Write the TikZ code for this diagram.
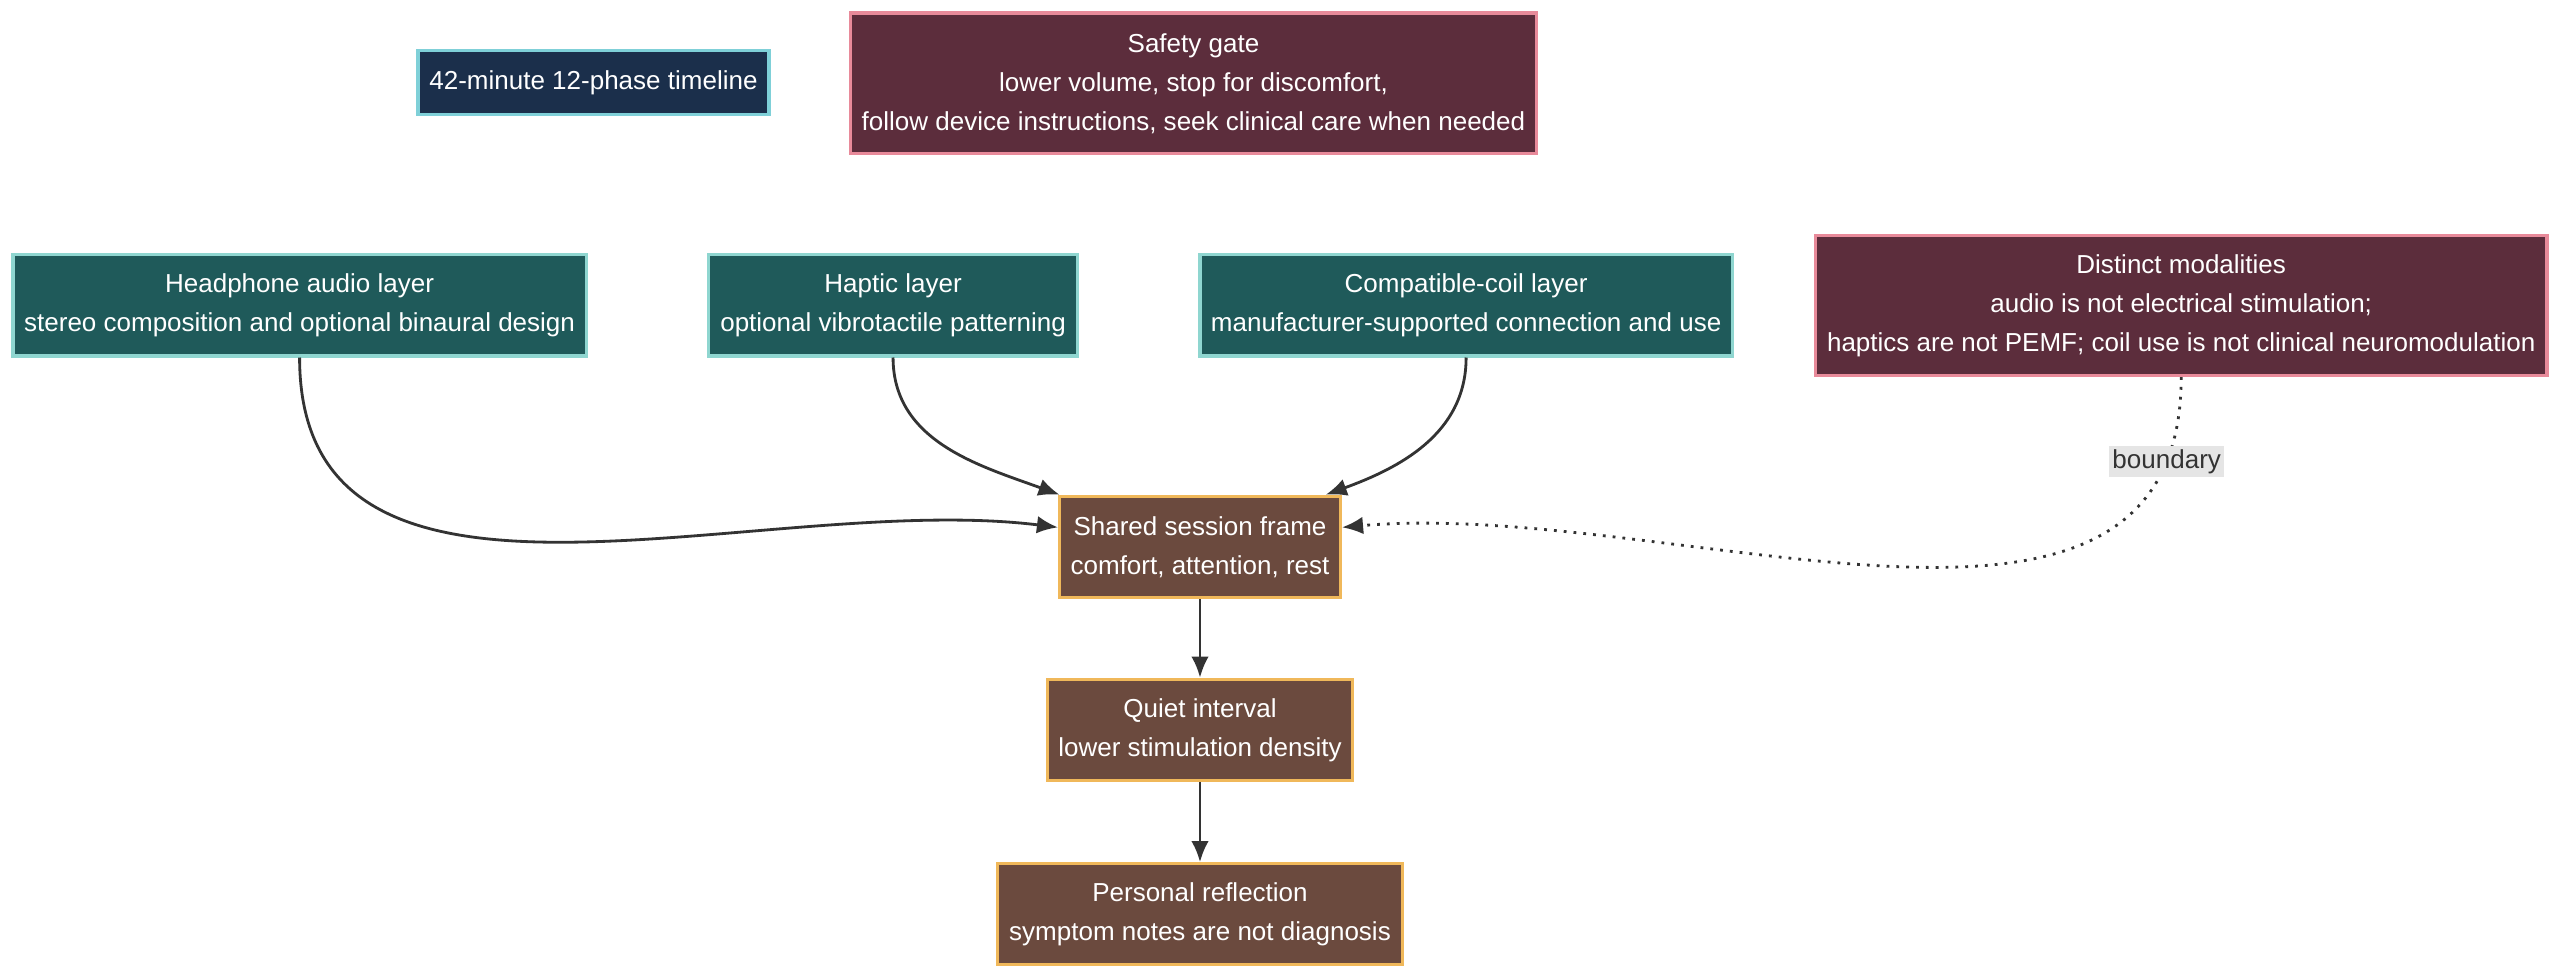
\documentclass[tikz,border=0pt]{standalone}
\usepackage{fontspec}
\setmainfont{Liberation Sans}
\usetikzlibrary{arrows.meta,calc,backgrounds}
\definecolor{navyfill}{HTML}{1B2F4B}
\definecolor{navyline}{HTML}{7FD0D8}
\definecolor{wine}{HTML}{5C2D3C}
\definecolor{wineline}{HTML}{E88A9A}
\definecolor{teal}{HTML}{1F5A5A}
\definecolor{tealline}{HTML}{8FD6D0}
\definecolor{brown}{HTML}{6B4A3E}
\definecolor{brownline}{HTML}{F0B85A}
\definecolor{edgecol}{HTML}{333333}
\begin{document}
\begin{tikzpicture}[
    x=0.01633cm, y=-0.01633cm,
    box/.style={draw, line width=0.9pt, text=white, align=center, inner sep=0pt,
                font=\fontsize{7.4}{11.1}\selectfont},
    timebox/.style={box, fill=navyfill, draw=navyline, minimum height=39*0.01633cm},
    gatebox/.style={box, fill=wine, draw=wineline, minimum height=86*0.01633cm},
    layerbox/.style={box, fill=teal, draw=tealline, minimum height=62*0.01633cm},
    framebox/.style={box, fill=brown, draw=brownline, minimum height=62*0.01633cm},
    link/.style={-{Latex[length=6pt,width=5pt]}, line width=0.8pt, draw=edgecol},
    bound/.style={link, dotted},
  ]
    \useasboundingbox[fill=white] (0,0) rectangle (1568,599);

    % sources
    \node[timebox, minimum width=215*0.01633cm] (tl) at (363.5,50.5) {42-minute 12-phase timeline};
    \node[gatebox, minimum width=420*0.01633cm] (sg) at (731,51)
      {Safety gate\\lower volume, stop for discomfort,\\follow device instructions, seek clinical care when needed};

    % layers
    \node[layerbox, minimum width=351*0.01633cm] (hp) at (183.5,187)
      {Headphone audio layer\\stereo composition and optional binaural design};
    \node[layerbox, minimum width=226*0.01633cm] (hap) at (547,187)
      {Haptic layer\\optional vibrotactile patterning};
    \node[layerbox, minimum width=326*0.01633cm] (coil) at (898,187)
      {Compatible-coil layer\\manufacturer-supported connection and use};
    \node[gatebox, minimum width=448*0.01633cm] (dm) at (1336,187)
      {Distinct modalities\\audio is not electrical stimulation;\\haptics are not PEMF; coil use is not clinical neuromodulation};

    % session
    \node[framebox, minimum width=172*0.01633cm] (sh) at (735,335)
      {Shared session frame\\comfort, attention, rest};
    \node[framebox, minimum width=187*0.01633cm] (qi) at (735,447)
      {Quiet interval\\lower stimulation density};
    \node[framebox, minimum width=248*0.01633cm] (pr) at (735,560)
      {Personal reflection\\symptom notes are not diagnosis};

    \begin{pgfonlayer}{background}
      \draw[link] ($(tl.south)+(-55,0)$) to[out=-160,in=90] ($(hp.north)+(-6,0)$);
      \draw[link] (tl.south) to[out=-90,in=160] ($(hap.north)+(-92,0)$);
      \draw[link] (tl.south east) to[out=-10,in=155] ($(coil.north)+(-76,0)$);
      \draw[link] ($(sg.south west)+(0,-6)$) to[out=190,in=25] ($(hp.north)+(78,0)$);
      \draw[link] ($(sg.south)+(-4,0)$) to[out=-90,in=20] ($(hap.north)+(83,0)$);
      \draw[link] ($(sg.south)+(114,0)$) to[out=-20,in=90] ($(coil.north)+(7,0)$);
    \end{pgfonlayer}

    \draw[link] (hp.south) to[out=-90,in=173] ($(sh.west)+(0,-12)$);
    \draw[link] (hap.south) to[out=-90,in=160] ($(sh.north)+(-86,0)$);
    \draw[link] (coil.south) to[out=-90,in=20] ($(sh.north)+(77,0)$);
    \draw[bound] (dm.south) to[out=-90,in=5]
      node[pos=0.1, fill=gray!20, inner sep=1pt, font=\fontsize{7.4}{9}\selectfont, text=edgecol] {boundary}
      ($(sh.east)+(0,-12)$);
    \draw[link] (sh) -- (qi);
    \draw[link] (qi) -- (pr);
\end{tikzpicture}
\end{document}
